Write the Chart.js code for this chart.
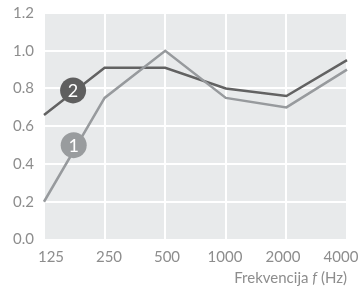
<!DOCTYPE html>
<html>
<head>
<meta charset="utf-8">
<script src="https://cdn.jsdelivr.net/npm/chart.js@4/dist/chart.umd.min.js"></script>
<style>
  html,body{margin:0;padding:0;background:#fff;}
  #wrap{width:358px;height:291px;}
</style>
</head>
<body>
<div id="wrap"><canvas id="c" width="358" height="291"></canvas></div>
<script>
const frequencies = ['125', '250', '500', '1000', '2000', '4000'];
const series1 = [0.20, 0.75, 1.00, 0.75, 0.70, 0.90];
const series2 = [0.66, 0.91, 0.91, 0.80, 0.76, 0.95];
const yTicks = [0.0, 0.2, 0.4, 0.6, 0.8, 1.0, 1.2];
// badge anchors in data units: [category index, value]
const badge1 = [0.49, 0.50];
const badge2 = [0.48, 0.79];

const FONT = 'Lato, "DejaVu Sans", sans-serif';
const TXT = '#8d8d8d';

// grey plot background
const plotBg = {
  id: 'plotBg',
  beforeDraw(chart){
    const {ctx, chartArea:a} = chart;
    ctx.save(); ctx.fillStyle = '#e8eaeb';
    ctx.fillRect(a.left, a.top, a.right-a.left, a.bottom-a.top);
    ctx.restore();
  }
};

// x labels: spread slightly inside the plot so the first and last stay on the page
const xLabels = {
  id: 'xLabels',
  afterDraw(chart){
    const {ctx, scales:{x, y}} = chart;
    const n = x.ticks.length;
    const l = x.left + 7, r = x.right - 6;
    ctx.save();
    ctx.fillStyle = TXT; ctx.font = '15px ' + FONT;
    ctx.textAlign = 'center'; ctx.textBaseline = 'middle';
    x.ticks.forEach((t, i) => ctx.fillText(x.getLabelForValue(t.value), l + (r - l) * i / (n - 1), y.bottom + 18));
    ctx.restore();
  }
};

const badges = {
  id: 'badges',
  afterDatasetsDraw(chart){
    const {ctx, scales:{x, y}} = chart;
    const draw = (pos, label, color) => {
      const cx = x.getPixelForValue(pos[0]), cy = y.getPixelForValue(pos[1]);
      ctx.save();
      ctx.beginPath(); ctx.arc(cx, cy, 13, 0, Math.PI*2);
      ctx.fillStyle = color; ctx.fill();
      ctx.fillStyle = '#fff'; ctx.font = '18px ' + FONT;
      ctx.textAlign = 'center'; ctx.textBaseline = 'middle';
      ctx.fillText(label, cx, cy+1);
      ctx.restore();
    };
    draw(badge2, '2', '#5f5f5f');
    draw(badge1, '1', '#999c9e');
  }
};

const axisTitle = {
  id: 'axisTitle',
  afterDraw(chart){
    const {ctx, chartArea:a} = chart;
    ctx.save();
    ctx.fillStyle = TXT; ctx.textBaseline = 'alphabetic';
    const parts = [['Frekvencija ', 'normal'], ['f', 'italic'], [' (Hz)', 'normal']];
    let w = 0;
    parts.forEach(p => { ctx.font = p[1] + ' 15px ' + FONT; w += ctx.measureText(p[0]).width; });
    let px = a.right - w;
    parts.forEach(p => { ctx.font = p[1] + ' 15px ' + FONT; ctx.fillText(p[0], px, 283); px += ctx.measureText(p[0]).width; });
    ctx.restore();
  }
};

new Chart(document.getElementById('c'), {
  type: 'line',
  data: {
    labels: frequencies,
    datasets: [
      { label: '1', data: series1, borderColor: '#979a9d', borderWidth: 2.5, pointRadius: 0, tension: 0, fill: false },
      { label: '2', data: series2, borderColor: '#626262', borderWidth: 2.5, pointRadius: 0, tension: 0, fill: false }
    ]
  },
  options: {
    responsive: false,
    animation: false,
    layout: { padding: { left: 0, right: 11, top: 13, bottom: 0 } },
    plugins: { legend: { display: false }, tooltip: { enabled: false } },
    scales: {
      x: {
        offset: false,
        grid: { color: '#ffffff', lineWidth: 2, drawTicks: false },
        border: { display: false },
        ticks: { display: false },
        afterFit(s){ s.height = 51.5; }
      },
      y: {
        min: 0, max: 1.2,
        afterBuildTicks(s){ s.ticks = yTicks.map(v => ({ value: v })); },
        grid: { color: '#ffffff', lineWidth: 2, drawTicks: false },
        border: { display: false },
        ticks: { color: TXT, font: { family: FONT, size: 15 }, padding: 10, callback: v => v.toFixed(1) },
        afterFit(s){ s.width = 44; s.paddingTop = 0; s.paddingBottom = 0; }
      }
    }
  },
  plugins: [plotBg, badges, xLabels, axisTitle]
});
</script>
</body>
</html>
